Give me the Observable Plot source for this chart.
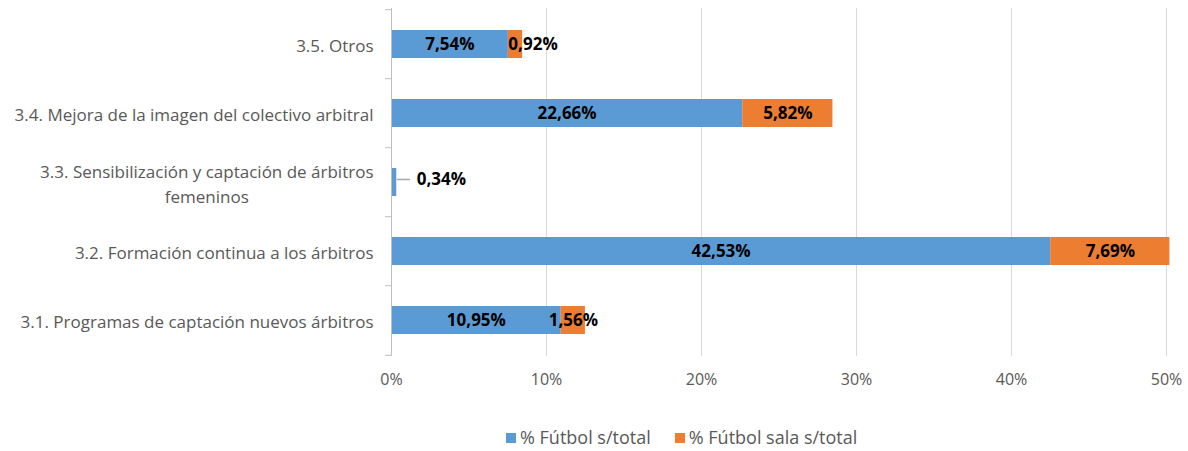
<!DOCTYPE html>
<html>
<head>
<meta charset="utf-8">
<script src="https://cdn.jsdelivr.net/npm/d3@7"></script>
<script src="https://cdn.jsdelivr.net/npm/@observablehq/plot@0.6"></script>
<style>
  body { margin: 0; background: #fff; font-family: "Open Sans", sans-serif; }
  #wrap { width: 1188px; height: 451px; position: relative; }
  #legend { position: absolute; top: 425px; left: 506px; display: flex; gap: 24px; font-size: 18px; color: #595959; line-height: 24px; }
  #legend span.sw { display: inline-block; width: 10px; height: 10px; margin-right: 4px; vertical-align: 1px; }
</style>
</head>
<body>
<div id="wrap"><div id="chart"></div><div id="legend"></div></div>
<script>
const categories = [
  "3.5. Otros",
  "3.4. Mejora de la imagen del colectivo arbitral",
  "3.3. Sensibilización y captación de árbitros\nfemeninos",
  "3.2. Formación continua a los árbitros",
  "3.1. Programas de captación nuevos árbitros"
];
const futbol = [7.54, 22.66, 0.34, 42.53, 10.95];
const sala = [0.92, 5.82, 0, 7.69, 1.56];
const seriesNames = ["% Fútbol s/total", "% Fútbol sala s/total"];
const colors = ["#5b9bd5", "#ed7d31"];
const xTicks = [0, 10, 20, 30, 40, 50];

const fmt = v => v.toFixed(2).replace(".", ",") + "%";
const rows = [];
categories.forEach((c, i) => {
  rows.push({cat: c, series: seriesNames[0], x1: 0, x2: futbol[i], v: futbol[i]});
  if (sala[i] > 0) rows.push({cat: c, series: seriesNames[1], x1: futbol[i], x2: futbol[i] + sala[i], v: sala[i]});
});
const labelsCenter = rows.filter(d => d.v >= 1);
const labelsStart = rows.filter(d => d.v < 1 && d.series === seriesNames[1]);
const labelsOut = rows.filter(d => d.v < 1 && d.series === seriesNames[0]);

const W = 1188, H = 400, mt = 8, mb = 44, ml = 391, mr = 22;
const step = (H - mt - mb) / categories.length;
const lbl = {fontWeight: "bold", fontSize: 17, fill: "#000"};

const chart = Plot.plot({
  width: W, height: H,
  marginTop: mt, marginBottom: mb, marginLeft: ml, marginRight: mr,
  style: {fontFamily: "Open Sans, sans-serif", fontSize: "17px", color: "#595959", background: "#fff"},
  x: {domain: [0, 50], ticks: xTicks, tickFormat: d => d + "%", label: null},
  y: {domain: categories, paddingInner: 0.6, paddingOuter: 0.3, label: null},
  color: {domain: seriesNames, range: colors},
  marks: [
    Plot.ruleX(xTicks.filter(t => t > 0), {stroke: "#d9d9d9", strokeWidth: 1}),
    Plot.axisX({ticks: xTicks, tickFormat: d => d + "%", tickSize: 0, tickPadding: 17, fontSize: 16, color: "#595959"}),
    Plot.axisY({tickSize: 0, tickPadding: 18, fontSize: 17, color: "#595959", lineHeight: 1.45}),
    Plot.barX(rows, {y: "cat", x1: "x1", x2: "x2", fill: "series"}),
    Plot.ruleX([0], {stroke: "#bfbfbf", strokeWidth: 1}),
    Plot.ruleY(categories, {y: d => d, dy: -step / 2, stroke: "#bfbfbf", dx: -6, insetRight: W - ml - mr - 6}),
    Plot.ruleY(categories.slice(-1), {y: d => d, dy: step / 2, stroke: "#bfbfbf", dx: -6, insetRight: W - ml - mr - 6}),
    Plot.text(labelsCenter, {y: "cat", x: d => (d.x1 + d.x2) / 2, text: d => fmt(d.v), ...lbl}),
    Plot.text(labelsStart, {y: "cat", x: "x1", text: d => fmt(d.v), textAnchor: "start", ...lbl}),
    Plot.link(labelsOut, {y1: "cat", y2: "cat", x1: "x2", x2: d => d.x2 + 0.85, dy: -3, stroke: "#a6a6a6", strokeWidth: 1.5}),
    Plot.text(labelsOut, {y: "cat", x: "x2", dx: 20, dy: -3, text: d => fmt(d.v), textAnchor: "start", ...lbl})
  ]
});
document.getElementById("chart").appendChild(chart);

// center multi-line y-axis labels like the original
chart.querySelectorAll('g[aria-label="y-axis tick label"] text').forEach(t => {
  const spans = t.querySelectorAll("tspan");
  if (spans.length > 1) {
    let w = 0;
    spans.forEach(s => { w = Math.max(w, s.getComputedTextLength()); });
    t.setAttribute("text-anchor", "middle");
    spans.forEach(s => s.setAttribute("x", -w / 2));
  }
});

const legend = document.getElementById("legend");
seriesNames.forEach((n, i) => {
  const item = document.createElement("div");
  item.innerHTML = `<span class="sw" style="background:${colors[i]}"></span>${n}`;
  legend.appendChild(item);
});
</script>
</body>
</html>
